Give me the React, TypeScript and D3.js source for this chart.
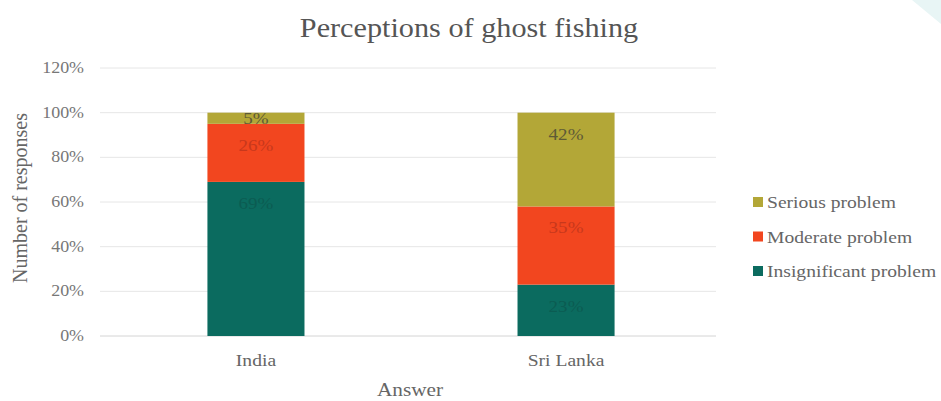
import React from "react";
import * as d3 from "d3";

// Survey answers by country (percent of responses)
const countries = ["India", "Sri Lanka"];
const insignificant = [69, 23];
const moderate = [26, 35];
const serious = [5, 42];
const yTicks = [0, 20, 40, 60, 80, 100, 120];
const seriesNames = ["Insignificant problem", "Moderate problem", "Serious problem"];

const colors: Record<string, string> = {
  "Insignificant problem": "#0b6b5f",
  "Moderate problem": "#f2461f",
  "Serious problem": "#b3a737",
};
const labelColors: Record<string, string> = {
  "Insignificant problem": "#0b5c52",
  "Moderate problem": "#c8381c",
  "Serious problem": "#5e5a36",
};

const W = 941;
const H = 401;
const plot = { left: 102, right: 720, top: 68, bottom: 336 };
const FONT = "'Liberation Serif', 'Times New Roman', serif";
const SX = 1.12; // slightly wide lettering

type TProps = {
  x: number;
  y: number;
  size: number;
  fill: string;
  anchor?: "start" | "middle" | "end";
  children: React.ReactNode;
};

function WideText({ x, y, size, fill, anchor = "start", children }: TProps) {
  return (
    <g transform={`translate(${x},${y}) scale(${SX},1)`}>
      <text x={0} y={0} fontSize={size} fill={fill} textAnchor={anchor}>
        {children}
      </text>
    </g>
  );
}

export default function App() {
  const x = d3
    .scaleBand<string>()
    .domain(countries)
    .range([plot.left, plot.right])
    .paddingInner(0.687)
    .paddingOuter(0.34);
  const y = d3.scaleLinear().domain([0, 120]).range([plot.bottom, plot.top]);

  const rows = countries.map((c, i) => ({
    country: c,
    "Insignificant problem": insignificant[i],
    "Moderate problem": moderate[i],
    "Serious problem": serious[i],
  }));
  const stacked = d3.stack<any>().keys(seriesNames)(rows);

  const legendItems = [...seriesNames].reverse();

  return (
    <svg
      width={W}
      height={H}
      style={{ position: "absolute", left: 0, top: 0, background: "#fff" }}
      fontFamily={FONT}
    >
      <rect x={0} y={0} width={W} height={H} fill="#ffffff" />
      <polygon points={`912,0 ${W},0 ${W},24`} fill="#e8f5f5" />

      <WideText x={469} y={37} size={27} fill="#555" anchor="middle">
        Perceptions of ghost fishing
      </WideText>

      {yTicks.map((t) => (
        <g key={t}>
          <line
            x1={plot.left - 2}
            x2={plot.right - 4}
            y1={y(t)}
            y2={y(t)}
            stroke={t === 0 ? "#d4d4d4" : "#e6e6e6"}
            strokeWidth={1}
          />
          <WideText x={84} y={y(t) + 5} size={16} fill="#777" anchor="end">
            {t}%
          </WideText>
        </g>
      ))}

      {stacked.map((layer) =>
        layer.map((d, i) => (
          <rect
            key={layer.key + i}
            x={x(countries[i])}
            y={y(d[1])}
            width={x.bandwidth()}
            height={y(d[0]) - y(d[1])}
            fill={colors[layer.key]}
          />
        ))
      )}

      {stacked.map((layer) =>
        layer.map((d, i) => {
          const v = d[1] - d[0];
          return (
            <WideText
              key={"l" + layer.key + i}
              x={(x(countries[i]) as number) + x.bandwidth() / 2}
              y={v < 10 ? y(d[1]) + 11 : y(d[1]) + 27}
              size={17}
              fill={labelColors[layer.key]}
              anchor="middle"
            >
              {v}%
            </WideText>
          );
        })
      )}

      {countries.map((c) => (
        <WideText
          key={c}
          x={(x(c) as number) + x.bandwidth() / 2}
          y={366}
          size={17.5}
          fill="#666"
          anchor="middle"
        >
          {c}
        </WideText>
      ))}

      <WideText x={410} y={396} size={19} fill="#666" anchor="middle">
        Answer
      </WideText>
      <text
        transform={`translate(27, 198) rotate(-90)`}
        textAnchor="middle"
        fontSize={20}
        fill="#666"
      >
        Number of responses
      </text>

      {legendItems.map((s, i) => (
        <g key={s} transform={`translate(753, ${202 + i * 34.5})`}>
          <rect x={0} y={-5} width={10} height={10} fill={colors[s]} />
          <WideText x={14} y={6} size={17.5} fill="#666">
            {s}
          </WideText>
        </g>
      ))}
    </svg>
  );
}
